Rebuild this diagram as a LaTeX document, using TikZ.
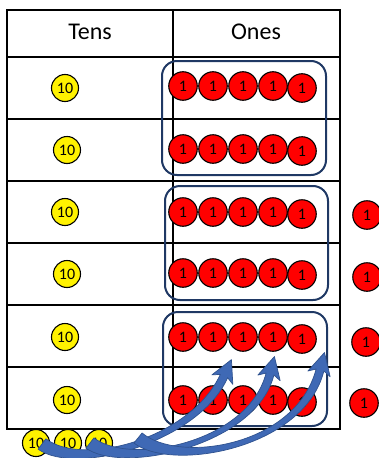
\documentclass[tikz,border=0pt]{standalone}
\usepackage{fontspec}
\setmainfont{Carlito}
\usetikzlibrary{calc}
\definecolor{navy}{HTML}{1F3864}
\definecolor{arrowblue}{HTML}{3F69B5}
\definecolor{arrowedge}{HTML}{2F528F}
\newcommand\myexarrow[5]{%
  \coordinate (#1s) at #2;
  \coordinate (#1c) at #3;
  \coordinate (#1d) at #4;
  \coordinate (#1e) at #5;
  \coordinate (#1sl) at ($(#1s)!6.5pt!90:(#1c)$);
  \coordinate (#1sr) at ($(#1s)!6.5pt!-90:(#1c)$);
  \coordinate (#1cl) at ($(#1c)!5.5pt!-90:(#1s)$);
  \coordinate (#1cr) at ($(#1c)!5.5pt!90:(#1s)$);
  \coordinate (#1dl) at ($(#1d)!4.5pt!90:(#1e)$);
  \coordinate (#1dr) at ($(#1d)!4.5pt!-90:(#1e)$);
  \coordinate (#1el) at ($(#1e)!4pt!-90:(#1d)$);
  \coordinate (#1er) at ($(#1e)!4pt!90:(#1d)$);
  \coordinate (#1b) at ($(#1e)!4pt!(#1d)$);
  \coordinate (#1hl) at ($(#1b)!11.5pt!-90:(#1d)$);
  \coordinate (#1hr) at ($(#1b)!11.5pt!90:(#1d)$);
  \coordinate (#1t) at ($(#1e)!-18pt!(#1d)$);
  \filldraw[exchange] (#1sl) .. controls (#1cl) and (#1dl) .. (#1el)
     -- (#1hl) -- (#1t) -- (#1hr) -- (#1er)
     .. controls (#1dr) and (#1cr) .. (#1sr) -- cycle;
}
\begin{document}
\begin{tikzpicture}[x=1pt,y=-1pt,
  gridline/.style={draw=black,line width=2.7pt},
  headtext/.style={anchor=base,font=\fontsize{24}{24}\selectfont},
  tencounter/.style={circle,draw=black,line width=1.1pt,fill=yellow,minimum size=27pt,inner sep=0pt,font=\fontsize{16}{16}\selectfont},
  onecounter/.style={circle,draw=black,line width=1.1pt,fill=red,minimum size=28.5pt,inner sep=0pt,font=\fontsize{16}{16}\selectfont},
  groupbox/.style={draw=navy,line width=2pt,rounded corners=15pt},
  exchange/.style={fill=arrowblue,draw=arrowedge,line width=0.7pt,line join=round}]
\useasboundingbox (0,0) rectangle (378,458);
% table
\draw[gridline] (7,10) rectangle (340,429);
\foreach \yy in {57,119,181,243,305,367} \draw[gridline] (7,\yy) -- (340,\yy);
\draw[gridline] (173,10) -- (173,429);
\node[headtext] (tens) at (90,39) {Tens};
\node[headtext] (ones) at (256,39) {Ones};
% tens counters
\foreach \i/\xx/\yy in {1/65/88,2/67/150,3/65/212,4/67/274,5/65/337,6/67/400}
  \node[tencounter] (t\i) at (\xx,\yy) {10};
% ones counters
\foreach \i/\yy in {1/86,2/149,3/212,4/273,5/337,6/400}{
  \foreach \j/\xx in {1/183,2/213,3/243,4/273}
    \node[onecounter] (o\i\j) at (\xx,\yy) {1};
  \node[onecounter] (o\i5) at (302,\yy+2) {1};
}
% group boxes
\draw[groupbox] (162,61) rectangle (326,175);
\draw[groupbox] (165,186) rectangle (328,300);
\draw[groupbox] (163,312) rectangle (327,426);
% extra ones
\foreach \i/\xx/\yy in {1/367/215,2/367/277,3/366/342,4/364/403}
  \node[onecounter] (x\i) at (\xx,\yy) {1};
% bottom tens
\foreach \i/\xx in {1/36,2/68,3/99}
  \node[tencounter] (b\i) at (\xx,443) {10};
% exchange arrows
\myexarrow{a}{(42,444)}{(80,472)}{(195,440)}{(224,376)}
\myexarrow{b}{(90,443)}{(125,470)}{(252,445)}{(270,374)}
\myexarrow{c}{(138,438)}{(175,468)}{(300,448)}{(320,370)}
\end{tikzpicture}
\end{document}
